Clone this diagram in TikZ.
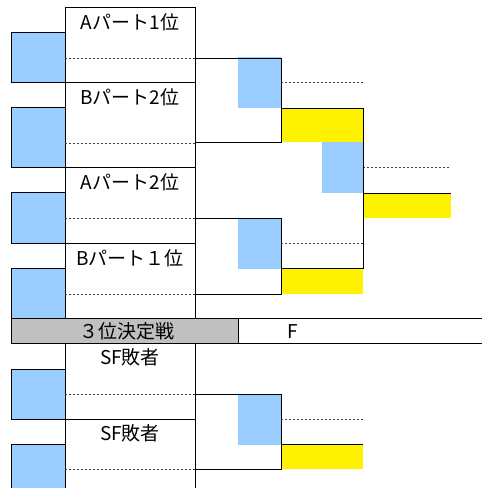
\documentclass[tikz,border=0pt]{standalone}
\usepackage{fontspec}
\setmainfont{Noto Sans CJK JP}
\usetikzlibrary{positioning}
\definecolor{cellblue}{HTML}{99CCFF}
\definecolor{winyellow}{HTML}{FFF200}
\definecolor{bargray}{HTML}{C0C0C0}

\begin{document}
\begin{tikzpicture}
    [x=1pt, y=-1pt,
    cell/.style={rectangle, anchor=north west, inner sep=0pt, outer sep=0pt},
    seed/.style={cell, draw, fill=cellblue, minimum width=54pt},
    pick/.style={cell, fill=cellblue, minimum width=43pt, minimum height=51pt},
    win/.style={cell, fill=winyellow, minimum width=82pt},
    team/.style={anchor=base, inner sep=0pt, font=\fontsize{19}{19}\selectfont},
    grid/.style={line width=1pt},
    slot/.style={line width=0.8pt, dash pattern=on 2pt off 2pt, black!75},
    bracket/.style={line width=1pt}]
    \useasboundingbox (0,0) rectangle (482,488);
    \fill [white] (0,0) rectangle (482,488);

    % seeds
    \node [seed, minimum height=50pt] (seed_1) at (11,32) {};
    \node [seed, minimum height=60pt] (seed_2) at (11,107) {};
    \node [seed, minimum height=51pt] (seed_3) at (11,192) {};
    \node [seed, minimum height=50pt] (seed_4) at (11,268) {};
    \node [seed, minimum height=50pt] (seed_5) at (11,369) {};
    \node [seed, minimum height=46pt] (seed_6) at (11,444) {};

    % winners' cells
    \node [pick] (semi_1) at (238,57) {};
    \node [pick] (semi_2) at (238,218) {};
    \node [pick, minimum width=41pt] (final) at (322,142) {};
    \node [pick] (third) at (238,394) {};
    \node [win, minimum height=34pt] (semi_1_win) at (281,108) {};
    \node [win, minimum height=26pt] (semi_2_win) at (281,268) {};
    \node [win, minimum width=88pt, minimum height=25pt] (final_win) at (363,193) {};
    \node [win, minimum height=25pt] (third_win) at (281,444) {};

    % third place bar
    \node [cell, draw, fill=bargray, minimum width=227pt, minimum height=25pt] (bar_third) at (11,318) {};
    \node [team, font=\fontsize{19}{19}\selectfont] (bar_third_text) at (127,338) {３位決定戦};
    \node [team] (bar_final_text) at (293,338) {F};
    \draw [grid] (bar_third.north east) -- (482,318);
    \draw [grid] (bar_third.south east) -- (482,343);

    % team column
    \draw [grid] (65,7) -- (195,7);
    \draw [grid] (65,7) -- (65,318) (65,343) -- (65,490);
    \draw [grid] (195,7) -- (195,318) (195,343) -- (195,490);
    \foreach \y in {82,167,243,419}
      \draw [grid] (65,\y) -- (195,\y);
    \node [team] (team_1) at (130,29) {Aパート1位};
    \node [team] (team_2) at (130,104) {Bパート2位};
    \node [team] (team_3) at (130,189) {Aパート2位};
    \node [team] (team_4) at (130,265) {Bパート１位};
    \node [team] (team_5) at (130,364) {SF敗者};
    \node [team] (team_6) at (130,440) {SF敗者};

    % slots
    \foreach \y in {58,143,218,294,394,469}
      \draw [slot] (65,\y) -- (195,\y);
    \draw [slot] (semi_1.east) ++(0,-0.5) -- ++(82,0);
    \draw [slot] (semi_2.east) ++(0,-0.5) -- ++(82,0);
    \draw [slot] (final.east) ++(0,-0.5) -- ++(87,0);
    \draw [slot] (third.east) ++(0,-0.5) -- ++(82,0);

    % bracket lines
    \draw [bracket] (195,58) -| (semi_1_win.south west) -- (195,142);
    \draw [bracket] (195,218) -| (semi_2_win.south west) -- (195,294);
    \draw [bracket] (195,394) -| (third_win.south west) -- (195,469);
    \draw [bracket] (semi_1_win.north west) -| (semi_2_win.north east) -- (semi_2_win.north west);
    \draw [bracket] (final_win.north west) -- (final_win.north east);
    \draw [bracket] (third_win.north west) -- (third_win.north east);
  \end{tikzpicture}
\end{document}
